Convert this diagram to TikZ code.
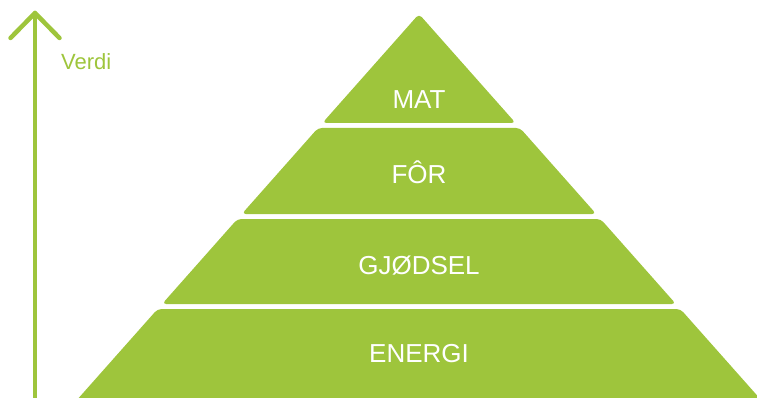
\documentclass[tikz,border=0pt]{standalone}
\usepackage{fontspec}
\setmainfont{Liberation Sans}
\definecolor{leaf}{RGB}{158,197,60}
\begin{document}
\begin{tikzpicture}[x=1pt,y=-1pt,
  tier/.style={fill=leaf,rounded corners=4pt},
  tierlabel/.style={text=white,font=\fontsize{26}{30}\selectfont,inner sep=0pt,anchor=base},
  axisline/.style={draw=leaf,line width=4.5pt,line cap=round,line join=round}]
\useasboundingbox (0,0) rectangle (757,398);
\clip (0,0) rectangle (757,398);
% pyramid tiers
\fill[tier] (419,14) -- (515.6,123) -- (322.4,123) -- cycle;
\fill[tier] (318,128) -- (520,128) -- (596.2,214) -- (241.8,214) -- cycle;
\fill[tier] (237.4,219) -- (600.6,219) -- (675.9,304) -- (162.1,304) -- cycle;
\fill[tier] (157.6,309) -- (680.4,309) -- (770,410) -- (68,410) -- cycle;
% labels
\node[tierlabel] (mat) at (419,109) {MAT};
\node[tierlabel] (for) at (419,184) {FÔR};
\node[tierlabel] (gjodsel) at (419,274) {GJØDSEL};
\node[tierlabel] (energi) at (419,362) {ENERGI};
% value axis
\coordinate (base) at (35,402);
\coordinate (tip) at (35,13);
\coordinate (wl) at (10.5,38);
\coordinate (wr) at (59.5,38);
\draw[axisline] (base) -- (tip);
\draw[axisline] (wl) -- (tip) -- (wr);
\node[text=leaf,font=\fontsize{22}{26}\selectfont,inner sep=0pt,anchor=base west] (verdi) at (61,70) {Verdi};
\end{tikzpicture}
\end{document}
